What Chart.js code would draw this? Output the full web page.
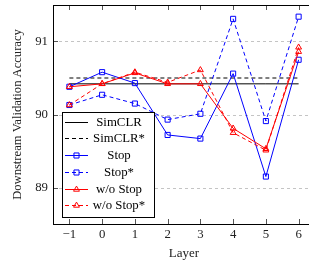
<!DOCTYPE html>
<html><head><meta charset="utf-8">
<script src="https://cdn.jsdelivr.net/npm/chart.js@4"></script>
<style>html,body{margin:0;padding:0;overflow:hidden;background:#fff;width:309px;height:262px}</style>
</head><body>
<canvas id="c" width="320" height="262" style="width:320px;height:262px;display:block"></canvas>
<script>
const layers = [-1, 0, 1, 2, 3, 4, 5, 6];
const yTicks = [89, 90, 91];
const simclr      = [90.42, 90.42, 90.42, 90.42, 90.42, 90.42, 90.42, 90.42];
const simclrStar  = [90.50, 90.50, 90.50, 90.50, 90.50, 90.50, 90.50, 90.50];
const stop        = [90.38, 90.58, 90.43, 89.72, 89.67, 90.56, 89.15, 90.75];
const stopStar    = [90.13, 90.27, 90.15, 89.93, 90.01, 91.31, 89.91, 91.34];
const woStop      = [90.38, 90.42, 90.57, 90.42, 90.42, 89.81, 89.53, 90.86];
const woStopStar  = [90.13, 90.42, 90.58, 90.44, 90.61, 89.75, 89.51, 90.92];
const seriesNames = ['SimCLR', 'SimCLR*', 'Stop', 'Stop*', 'w/o Stop', 'w/o Stop*'];

const FONT = 'Liberation Serif';
const pts = arr => arr.map((v, i) => ({x: layers[i], y: v}));

const styles = [
  {color: '#000000', dash: [], point: false},
  {color: '#000000', dash: [4, 3], point: false},
  {color: '#0000ff', dash: [], point: 'rect'},
  {color: '#0000ff', dash: [4, 3], point: 'rect'},
  {color: '#ff0000', dash: [], point: 'triangle'},
  {color: '#ff0000', dash: [4, 3], point: 'triangle'}
];
const values = [simclr, simclrStar, stop, stopStar, woStop, woStopStar];

const datasets = values.map((arr, i) => {
  const s = styles[i];
  return {
    label: seriesNames[i],
    data: pts(arr),
    borderColor: s.color,
    borderWidth: 1,
    borderDash: s.dash,
    pointStyle: s.point || 'circle',
    pointRadius: s.point ? (s.point === 'rect' ? 3.6 : 3.4) : 0,
    pointBorderColor: s.color,
    pointBackgroundColor: 'rgba(255,255,255,0)',
    pointBorderWidth: 1,
    tension: 0,
    fill: false,
    order: 10 - i
  };
});

const fmt = v => (v < 0 ? '\u2212' + Math.abs(v) : String(v));

const framePlugin = {
  id: 'frame',
  beforeDatasetsDraw(chart) {
    const {ctx, chartArea: a, scales: {x, y}} = chart;
    ctx.save();
    // grid
    ctx.strokeStyle = '#c4c4c4';
    ctx.lineWidth = 1;
    ctx.setLineDash([3, 3]);
    yTicks.forEach(v => {
      const py = Math.round(y.getPixelForValue(v)) + 0.5;
      ctx.beginPath(); ctx.moveTo(a.left, py); ctx.lineTo(a.right, py); ctx.stroke();
    });
    ctx.setLineDash([]);
    // ticks
    ctx.strokeStyle = '#555';
    layers.forEach(v => {
      const px = Math.round(x.getPixelForValue(v)) + 0.5;
      ctx.beginPath(); ctx.moveTo(px, a.bottom); ctx.lineTo(px, a.bottom - 5); ctx.stroke();
      ctx.beginPath(); ctx.moveTo(px, a.top); ctx.lineTo(px, a.top + 5); ctx.stroke();
    });
    yTicks.forEach(v => {
      const py = Math.round(y.getPixelForValue(v)) + 0.5;
      ctx.beginPath(); ctx.moveTo(a.left, py); ctx.lineTo(a.left + 5, py); ctx.stroke();
    });
    // frame
    ctx.strokeStyle = '#000';
    ctx.lineWidth = 1;
    ctx.strokeRect(Math.round(a.left) + 0.5, Math.round(a.top) + 0.5,
                   Math.round(a.right - a.left), Math.round(a.bottom - a.top));
    // tick labels
    ctx.fillStyle = '#222';
    ctx.font = '12.8px "' + FONT + '"';
    ctx.textAlign = 'right';
    ctx.textBaseline = 'middle';
    yTicks.forEach(v => { ctx.fillText(fmt(v), a.left - 5, y.getPixelForValue(v) + 0.5); });
    ctx.textAlign = 'center';
    layers.forEach(v => { ctx.fillText(fmt(v), x.getPixelForValue(v), a.bottom + 11); });
    ctx.restore();
  },
  afterDraw(chart) {
    const {ctx} = chart;
    const bx = 62, by = 112, bw = 92, bh = 105;
    ctx.save();
    ctx.fillStyle = '#fff';
    ctx.fillRect(bx, by, bw, bh);
    ctx.strokeStyle = '#000';
    ctx.lineWidth = 1;
    ctx.strokeRect(bx + 0.5, by + 0.5, bw, bh);
    const step = 16.7;
    seriesNames.forEach((name, i) => {
      const cy = Math.round(by + 9.7 + i * step) + 0.5;
      const s = styles[i];
      ctx.strokeStyle = s.color;
      ctx.lineWidth = 1;
      ctx.setLineDash(s.dash);
      ctx.beginPath(); ctx.moveTo(65, cy); ctx.lineTo(88, cy); ctx.stroke();
      ctx.setLineDash([]);
      if (s.point) {
        ctx.fillStyle = 'rgba(255,255,255,0)';
        Chart.helpers.drawPoint(ctx, {pointStyle: s.point, radius: s.point === 'rect' ? 3.6 : 3.4, rotation: 0, borderWidth: 1}, 76.5, cy);
      }
      ctx.fillStyle = '#000';
      ctx.font = '12.8px "' + FONT + '"';
      ctx.textAlign = 'center';
      ctx.textBaseline = 'middle';
      ctx.fillText(name, 119, cy + 0.5);
    });
    ctx.restore();
  }
};

new Chart(document.getElementById('c'), {
  type: 'line',
  data: {datasets},
  plugins: [framePlugin],
  options: {
    responsive: false,
    animation: false,
    devicePixelRatio: 1,
    layout: {padding: {top: 5, right: 3, left: 0, bottom: 0}},
    plugins: {legend: {display: false}, tooltip: {enabled: false}},
    scales: {
      x: {
        type: 'linear', min: -1.5, max: 6.5,
        afterBuildTicks: s => { s.ticks = layers.map(v => ({value: v})); },
        afterFit: s => { s.height = 38; s.paddingLeft = 0; s.paddingRight = 0; },
        grid: {display: false, drawTicks: false},
        border: {display: false},
        ticks: {display: false},
        title: {display: true, text: 'Layer', color: '#222', font: {family: FONT, size: 13}, padding: {top: 0, bottom: 1}}
      },
      y: {
        type: 'linear', min: 88.5, max: 91.5,
        afterBuildTicks: s => { s.ticks = yTicks.map(v => ({value: v})); },
        afterFit: s => { s.width = 53; s.paddingTop = 0; s.paddingBottom = 0; },
        grid: {display: false, drawTicks: false},
        border: {display: false},
        ticks: {display: false},
        title: {display: true, text: 'Downstream Validation Accuracy', color: '#222', font: {family: FONT, size: 12.6}, padding: {top: 10, bottom: 0}}
      }
    }
  }
});
</script>
</body></html>
